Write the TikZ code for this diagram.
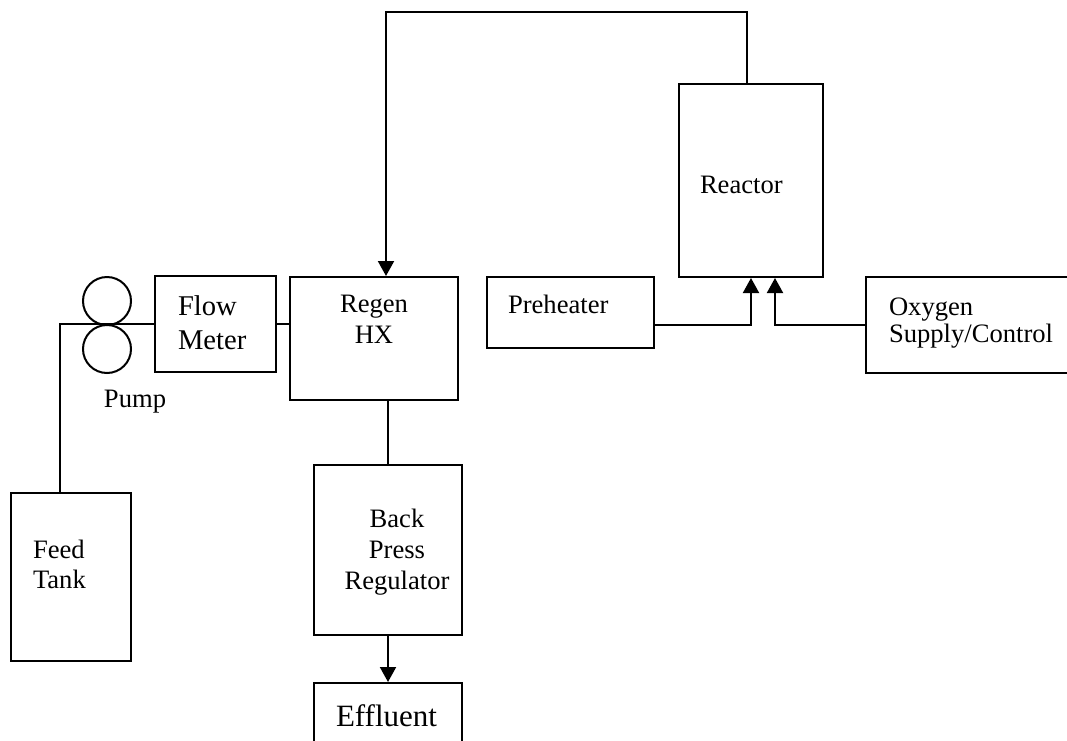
\documentclass[tikz,border=0pt]{standalone}
\usepackage{fontspec}
\setmainfont{Liberation Serif}
\usetikzlibrary{positioning,calc,arrows.meta}

\begin{document}
\begin{tikzpicture}[x=0.5pt,y=-0.5pt,line width=1pt,
    unit/.style={draw,rectangle,inner sep=0pt},
    txt/.style={inner sep=0pt,anchor=base west,align=left,font=\fontsize{13.3}{15.5}\selectfont},
    bigtxt/.style={txt,font=\fontsize{14.3}{17}\selectfont},
    feedline/.style={-{Triangle[length=7.5pt,width=8pt]}}]
  \useasboundingbox (0,0) rectangle (1067,740);

  % equipment
  \node[unit,minimum width=60pt,minimum height=84pt] (tank) at (71,577) {};
  \node[unit,circle,minimum size=24pt] (pumpa) at (107,301) {};
  \node[unit,circle,minimum size=24pt] (pumpb) at (107,349) {};
  \node[unit,minimum width=60.5pt,minimum height=48pt] (meter) at (215.5,324) {};
  \node[unit,minimum width=84pt,minimum height=61.5pt] (regen) at (374,338.5) {};
  \node[unit,minimum width=83.5pt,minimum height=35.5pt] (heater) at (570.5,312.5) {};
  \node[unit,minimum width=72pt,minimum height=96.5pt] (reactor) at (751,180.5) {};
  \node[unit,minimum width=117pt,minimum height=48pt] (oxygen) at (983,325) {};
  \node[unit,minimum width=74pt,minimum height=85pt] (bpr) at (388,550) {};
  \node[unit,minimum width=74pt,minimum height=48.5pt] (effluent) at (388,731.5) {};

  % labels (base = last line)
  \node[txt,font=\fontsize{13.3}{15}\selectfont] (tanktext) at (32,588) {Feed\\Tank};
  \node[txt] (pumptext) at (103,407) {Pump};
  \node[bigtxt] (metertext) at (177,349) {Flow\\Meter};
  \node[txt,anchor=base,align=center] (regentext) at (374,343) {Regen\\HX};
  \node[txt] (heatertext) at (507,313) {Preheater};
  \node[txt] (reactortext) at (699,193) {Reactor};
  \node[txt,font=\fontsize{13.3}{13.5}\selectfont] (oxygentext) at (888,342) {Oxygen\\Supply/Control};
  \node[txt,anchor=base,align=center] (bprtext) at (397,589) {Back\\Press\\Regulator};
  \node[txt,font=\fontsize{15.5}{17}\selectfont] (effluenttext) at (335,726) {Effluent};

  % piping
  \draw ($(tank.north)+(-11,0)$) |- (meter.west);
  \draw (meter.east) -- (meter.east -| regen.west);
  \draw ($(heater.west)+(0,10)$) -- ($(heater.west)+(0,10)$ -| regen.east);
  \draw[feedline] ($(heater.east)+(0,12)$) -| (reactor.south);
  \draw[feedline] (oxygen.west) -| ($(reactor.south)+(24,0)$);
  \draw[feedline] ($(reactor.north)+(-4,0)$) -- ++(0,-71) -| ($(regen.north)+(12,0)$);
  \draw (regen.south -| bpr.north) -- (bpr.north);
  \draw[feedline] (bpr.south) -- (effluent.north);
\end{tikzpicture}
\end{document}
